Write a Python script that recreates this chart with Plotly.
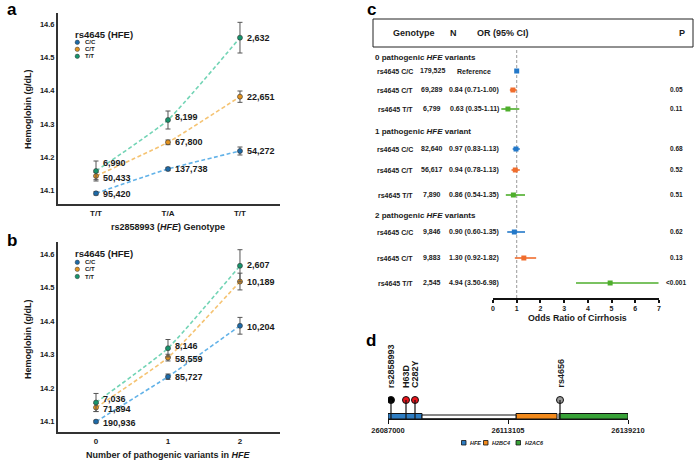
import plotly.graph_objects as go

W, H = 700, 465


def px(x):
    return x / W


def py(y):
    return 1 - y / H


FONT = "Arial, 'Liberation Sans', Helvetica, sans-serif"
TXT = "#1a1a1a"

# ---------------- data ----------------
geno_a_labels = ["T/T", "T/A", "T/T"]
variant_labels_b = ["0", "1", "2"]
rs4645_groups = ["C/C", "C/T", "T/T"]

# panel a : hemoglobin by rs2858993 genotype
a_cc = [14.092, 14.165, 14.219]
a_ct = [14.144, 14.245, 14.382]
a_tt = [14.159, 14.312, 14.559]
a_cc_err = [0.005, 0.005, 0.012]
a_ct_err = [0.011, 0.007, 0.017]
a_tt_err = [0.030, 0.027, 0.046]
a_cc_n = ["95,420", "137,738", "54,272"]
a_ct_n = ["50,433", "67,800", "22,651"]
a_tt_n = ["6,990", "8,199", "2,632"]

# panel b : hemoglobin by number of pathogenic HFE variants
b_cc = [14.100, 14.234, 14.386]
b_ct = [14.142, 14.291, 14.518]
b_tt = [14.157, 14.319, 14.565]
b_cc_err = [0.004, 0.008, 0.025]
b_ct_err = [0.012, 0.010, 0.025]
b_tt_err = [0.027, 0.026, 0.048]
b_cc_n = ["190,936", "85,727", "10,204"]
b_ct_n = ["71,894", "58,559", "10,189"]
b_tt_n = ["7,036", "8,146", "2,607"]

# panel c : forest plot
forest_groups = ["0 pathogenic <i>HFE</i> variants",
                 "1 pathogenic <i>HFE</i> variant",
                 "2 pathogenic <i>HFE</i> variants"]
forest_geno = ["rs4645 C/C", "rs4645 C/T", "rs4645 T/T",
               "rs4645 C/C", "rs4645 C/T", "rs4645 T/T",
               "rs4645 C/C", "rs4645 C/T", "rs4645 T/T"]
forest_n = ["179,525", "69,289", "6,799", "82,640", "56,617", "7,890",
            "9,846", "9,883", "2,545"]
forest_or = [1.00, 0.84, 0.63, 0.97, 0.94, 0.86, 0.90, 1.30, 4.94]
forest_lo = [1.00, 0.71, 0.35, 0.83, 0.78, 0.54, 0.60, 0.92, 3.50]
forest_hi = [1.00, 1.00, 1.11, 1.13, 1.13, 1.35, 1.35, 1.82, 6.98]
forest_p = ["", "0.05", "0.11", "0.68", "0.52", "0.51", "0.62", "0.13", "<0.001"]
forest_ticks = [0, 1, 2, 3, 4, 5, 6, 7]

# panel d : locus map
gene_names = ["HFE", "H2BC4", "H2AC6"]
gene_start = [26087000, 26114845, 26124200]
gene_end = [26094400, 26123765, 26139210]
snp_names = ["rs2858993", "H63D", "C282Y", "rs4656"]
snp_pos = [26087650, 26090916, 26092874, 26124417]
ruler_ticks = [26087000, 26113105, 26139210]

# ---------------- styles ----------------
dark = ["#1d6aa8", "#e2921d", "#17946c"]
light = ["#62b2e8", "#f5c372", "#72d4b5"]
forest_col = ["#2378c9", "#f06d2d", "#4eae2c"]
gene_col = ["#2e7dc2", "#f28a1c", "#38a238"]
snp_col = ["#000000", "#e8141b", "#e8141b", "#9a9a9a"]

fig = go.Figure()


def note(x, y, text, size, xanchor="center", yanchor="middle", xref="paper", yref="paper",
         angle=0, xshift=0, yshift=0, color=TXT):
    fig.add_annotation(x=x, y=y, xref=xref, yref=yref, text=text, showarrow=False,
                       xanchor=xanchor, yanchor=yanchor, textangle=angle,
                       xshift=xshift, yshift=yshift,
                       font=dict(family=FONT, size=size, color=color, weight="bold"))


def add_series(xa, ya, ys, errs, labels, shifts, i):
    xs = list(range(len(ys)))
    fig.add_trace(go.Scatter(
        x=xs, y=ys, xaxis=xa, yaxis=ya, mode="lines+markers",
        line=dict(color=light[i], width=1.6, dash="4px,2.5px", shape="spline", smoothing=0.4),
        marker=dict(color=dark[i], size=5, line=dict(color="#333", width=0.6)),
        error_y=dict(type="data", array=errs, visible=True, color="#555", thickness=1, width=2.5),
        showlegend=False, hoverinfo="skip"))
    for x, y, t, s in zip(xs, ys, labels, shifts):
        note(x, y, t, 9, xanchor="left", xref=xa, yref=ya, xshift=5, yshift=s)


add_series("x", "y", a_cc, a_cc_err, a_cc_n, [-1, 0, 0], 0)
add_series("x", "y", a_ct, a_ct_err, a_ct_n, [-2, 0, 0], 1)
add_series("x", "y", a_tt, a_tt_err, a_tt_n, [8, 3, 0], 2)
add_series("x2", "y2", b_cc, b_cc_err, b_cc_n, [-1, 0, -1], 0)
add_series("x2", "y2", b_ct, b_ct_err, b_ct_n, [-1, -1, 0], 1)
add_series("x2", "y2", b_tt, b_tt_err, b_tt_n, [4, 2, 1], 2)

# forest plot rows (layout positions in px below the top of the plot area)
row_y = [23, 42, 61, 101, 122, 147, 184, 210, 235]
group_y = [9, 83, 167]
for g in range(3):
    idx = [g, g + 3, g + 6]
    fig.add_trace(go.Scatter(
        x=[forest_or[i] for i in idx], y=[row_y[i] for i in idx],
        xaxis="x3", yaxis="y3", mode="markers",
        marker=dict(symbol="square", size=5, color=forest_col[g]),
        error_x=dict(type="data", symmetric=False,
                     array=[forest_hi[i] - forest_or[i] for i in idx],
                     arrayminus=[forest_or[i] - forest_lo[i] for i in idx],
                     color=forest_col[g], thickness=1.6, width=0),
        showlegend=False, hoverinfo="skip"))

fig.add_shape(type="line", xref="x3", yref="y3 domain", x0=1, x1=1, y0=0, y1=1,
              line=dict(color="#9a9a9a", width=1, dash="3px,2px"), layer="below")

for i in range(9):
    yv = row_y[i]
    ort = "Reference" if i == 0 else f"{forest_or[i]:.2f} ({forest_lo[i]:.2f}-{forest_hi[i]:.2f})"
    for xc, t in [(395, forest_geno[i]), (432, forest_n[i]), (474, ort)]:
        note(px(xc), yv, t, 7, yref="y3")
    if forest_p[i]:
        note(px(676), yv, forest_p[i], 6.5, yref="y3", yshift=1)
for g in range(3):
    note(px(373), group_y[g], forest_groups[g], 8, xanchor="left", yref="y3")

# header box
fig.add_shape(type="rect", xref="paper", yref="paper", x0=px(373), x1=px(693), y0=py(47), y1=py(19),
              line=dict(color="#222", width=1))
for xc, t in [(414, "Genotype"), (453, "N"), (503, "OR (95% CI)"), (682, "P")]:
    note(px(xc), py(33), t, 9)

# ---------------- panel d ----------------
for s, e, c in zip(gene_start, gene_end, gene_col):
    fig.add_shape(type="rect", xref="x4", yref="y4", x0=s, x1=e, y0=0, y1=5.5,
                  fillcolor=c, line=dict(color="#111", width=1))
fig.add_shape(type="rect", xref="x4", yref="y4", x0=gene_end[0], x1=gene_start[1], y0=0.3, y1=4,
              fillcolor="white", line=dict(color="#111", width=1))
for p in snp_pos:
    fig.add_shape(type="line", xref="x4", yref="y4", x0=p, x1=p, y0=0, y1=19,
                  line=dict(color="#111", width=1.2))
fig.add_trace(go.Scatter(x=snp_pos, y=[19] * len(snp_pos), xaxis="x4", yaxis="y4", mode="markers",
                         marker=dict(size=7, color=snp_col, line=dict(color="#111", width=1)),
                         showlegend=False, hoverinfo="skip"))
for p, n in zip(snp_pos, snp_names):
    note(p, 29, n, 9, xanchor="center", yanchor="bottom", xref="x4", yref="y4", angle=-90)

# gene legend
for xl, n, c in zip([461.5, 483.5, 516], gene_names, gene_col):
    fig.add_shape(type="rect", xref="paper", yref="paper", x0=px(xl), x1=px(xl + 4.5),
                  y0=py(445), y1=py(440.5), fillcolor=c, line=dict(color="#111", width=0.8))
    note(px(xl + 6.5), py(442.8), f"<i>{n}</i>", 5.5, xanchor="left")

# ---------------- legends a / b ----------------
for ty, iy in [(34, [42.3, 49.3, 56.3]), (253.5, [262.3, 269.3, 276.5])]:
    note(px(72.5), py(ty), "rs4645 (HFE)", 9.5, xanchor="left")
    for k in range(3):
        r = 2.2
        fig.add_shape(type="circle", xref="paper", yref="paper",
                      x0=px(77.3 - r), x1=px(77.3 + r), y0=py(iy[k] + r), y1=py(iy[k] - r),
                      fillcolor=dark[k], line=dict(color="#333", width=0.5))
        note(px(82.5), py(iy[k]), rs4645_groups[k], 6, xanchor="left")

# axis titles
note(px(168), py(227), "rs2858993 (<i>HFE</i>) Genotype", 9)
note(px(168), py(455), "Number of pathogenic variants in <i>HFE</i>", 9)
for yc in [110, 340]:
    note(px(28), py(yc), "Hemoglobin (g/dL)", 9, angle=-90)
note(px(577), py(318), "Odds Ratio of Cirrhosis", 8.8)

# panel letters
for t, xc, yc in [("a", 12, 9), ("b", 12, 240), ("c", 371, 10), ("d", 371, 340)]:
    note(px(xc), py(yc), t, 17, color="#000")

# ---------------- axes ----------------
ax_common = dict(showline=True, linecolor="#333", linewidth=2, ticks="", showgrid=False,
                 zeroline=False, automargin=False,
                 tickfont=dict(family=FONT, size=8, color=TXT, weight="bold"))
y_ticks = [14.1, 14.2, 14.3, 14.4, 14.5, 14.6]
yfont = dict(family=FONT, size=7.5, color=TXT, weight="bold")

fig.update_layout(
    template="none",
    width=W, height=H, autosize=False,
    margin=dict(l=0, r=0, t=0, b=0, pad=0),
    paper_bgcolor="white", plot_bgcolor="white",
    showlegend=False,
    font=dict(family=FONT, color=TXT),
    xaxis=dict(domain=[px(58), px(280)], range=[-0.528, 2.556], anchor="y",
               tickvals=list(range(3)), ticktext=geno_a_labels, **ax_common),
    yaxis=dict(domain=[py(204), py(13)], range=[14.06, 14.633], anchor="x",
               tickvals=y_ticks, ticktext=[f"{v:.1f}" for v in y_ticks],
               **{**ax_common, "tickfont": yfont}),
    xaxis2=dict(domain=[px(58), px(280)], range=[-0.528, 2.556], anchor="y2",
                tickvals=list(range(3)), ticktext=variant_labels_b, **ax_common),
    yaxis2=dict(domain=[py(432), py(242)], range=[14.069, 14.636], anchor="x2",
                tickvals=y_ticks, ticktext=[f"{v:.1f}" for v in y_ticks],
                **{**ax_common, "tickfont": yfont}),
    xaxis3=dict(domain=[px(493), px(659)], range=[0, 7], anchor="y3", automargin=False,
                showline=True, linecolor="#111", linewidth=1.5, ticks="outside", ticklen=3,
                tickwidth=1.5, tickcolor="#111", tickvals=forest_ticks, showgrid=False, zeroline=False,
                tickfont=dict(family=FONT, size=7, color=TXT, weight="bold")),
    yaxis3=dict(domain=[py(298), py(48)], range=[250, 0], anchor="x3", visible=False,
                automargin=False),
    xaxis4=dict(domain=[px(388), px(628)], range=[gene_start[0], gene_end[-1]], anchor="y4",
                automargin=False,
                showline=True, linecolor="#111", linewidth=1, ticks="outside", ticklen=4,
                tickwidth=1, tickcolor="#111", tickvals=ruler_ticks,
                ticktext=[str(v) for v in ruler_ticks], showgrid=False, zeroline=False,
                tickfont=dict(family=FONT, size=7.5, color=TXT, weight="bold")),
    yaxis4=dict(domain=[py(419), py(340)], range=[0, 79], anchor="x4", visible=False,
                automargin=False),
)

fig.write_html("out.html", config={"displayModeBar": False},
               post_script="document.body.style.margin='0';")
